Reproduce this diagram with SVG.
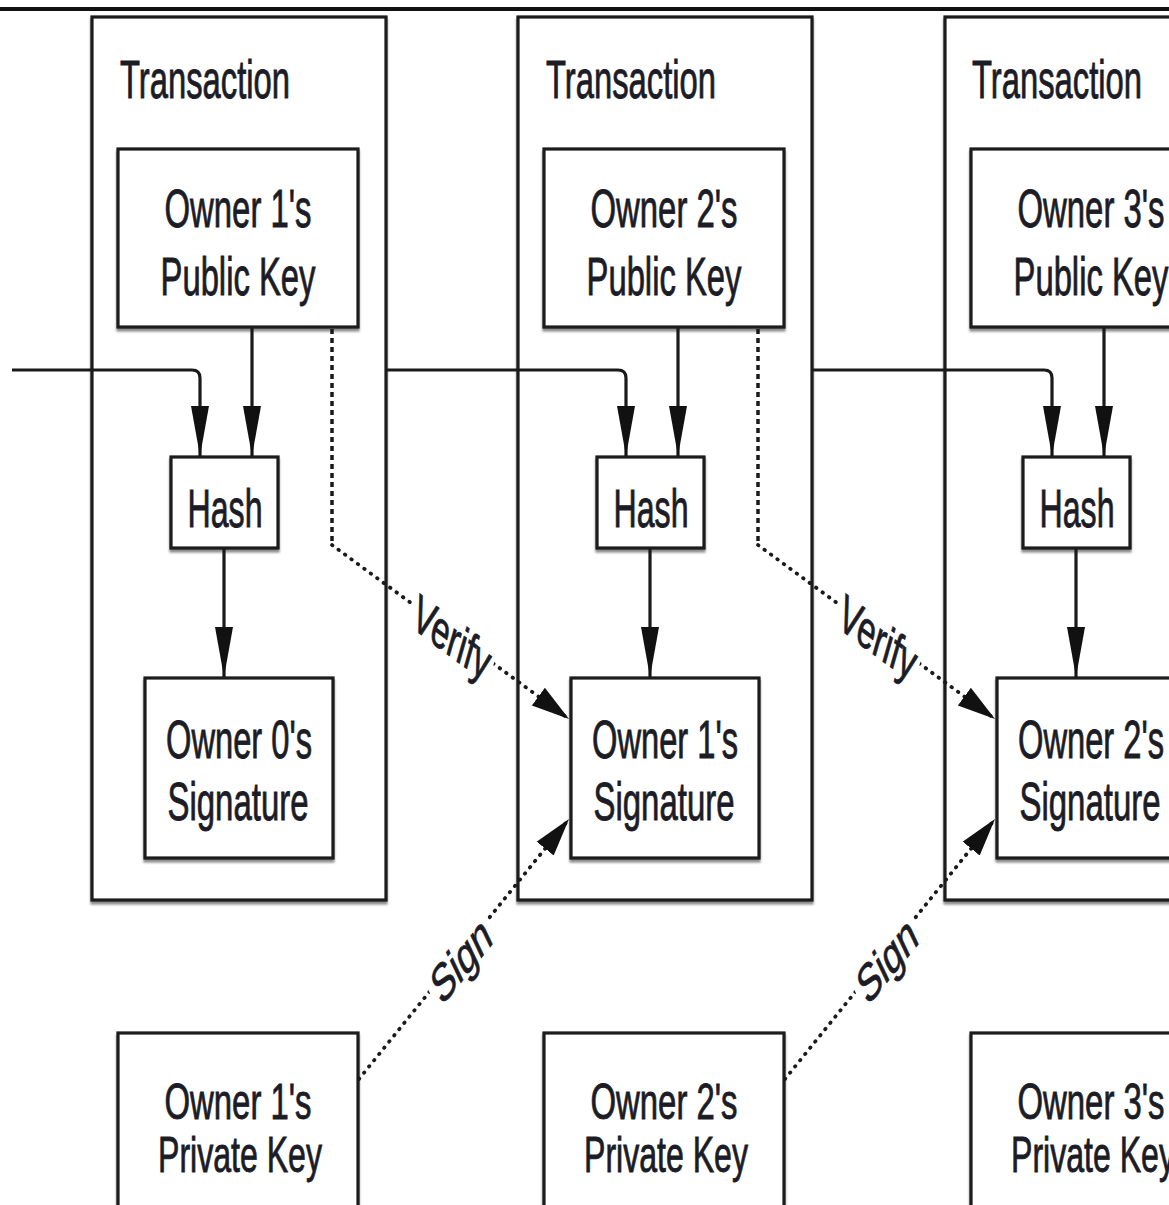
<svg xmlns="http://www.w3.org/2000/svg" width="1169" height="1205" viewBox="0 0 1169 1205">
<defs>
<style>
.box{fill:#fff;stroke:#1a1a1a;stroke-width:3.2;filter:url(#sh)}
.t{font-family:"Liberation Sans",Arial,Helvetica,sans-serif;font-size:53px;fill:#1c1c26;stroke:#1c1c26;stroke-width:0.9}
.s{font-size:50px}
.c{text-anchor:middle}
.ln{fill:none;stroke:#1a1a1a;stroke-width:3.2}
.dv{fill:none;stroke:#1a1a1a;stroke-width:3.5;stroke-dasharray:5 4}
.dd{fill:none;stroke:#1a1a1a;stroke-width:3.8;stroke-linecap:round;stroke-dasharray:0.5 7.5}
</style>
<filter id="sh" x="-5%" y="-5%" width="110%" height="115%">
<feDropShadow dx="0" dy="3" stdDeviation="1.2" flood-color="#000" flood-opacity="0.45"/>
</filter>
<marker id="av" markerUnits="userSpaceOnUse" markerWidth="50" markerHeight="20" refX="50" refY="10" orient="auto">
<path d="M0,1 L50,10 L0,19 Z" fill="#111"/>
</marker>
<marker id="ad" markerUnits="userSpaceOnUse" markerWidth="38" markerHeight="26" refX="38" refY="13" orient="auto">
<path d="M0,2 L38,13 L0,24 Z" fill="#111"/>
</marker>
</defs>
<rect x="0" y="0" width="1169" height="1205" fill="#fff"/>
<rect x="0" y="7" width="1169" height="4" fill="#111"/>

<g id="tx1">
<rect class="box" x="92" y="17" width="294" height="883"/>
<text class="t" x="120" y="98" textLength="170" lengthAdjust="spacingAndGlyphs">Transaction</text>
</g>
<g id="tx2">
<rect class="box" x="518" y="17" width="294" height="883"/>
<text class="t" x="546" y="98" textLength="170" lengthAdjust="spacingAndGlyphs">Transaction</text>
</g>
<g id="tx3">
<rect class="box" x="945" y="17" width="294" height="883"/>
<text class="t" x="972" y="98" textLength="170" lengthAdjust="spacingAndGlyphs">Transaction</text>
</g>

<g id="pub1">
<rect class="box" x="118" y="149" width="240" height="178"/>
<text class="t c" x="238" y="227" textLength="147" lengthAdjust="spacingAndGlyphs">Owner 1's</text>
<text class="t c" x="238" y="295" textLength="155" lengthAdjust="spacingAndGlyphs">Public Key</text>
</g>
<g id="pub2">
<rect class="box" x="544" y="149" width="240" height="178"/>
<text class="t c" x="664" y="227" textLength="147" lengthAdjust="spacingAndGlyphs">Owner 2's</text>
<text class="t c" x="664" y="295" textLength="155" lengthAdjust="spacingAndGlyphs">Public Key</text>
</g>
<g id="pub3">
<rect class="box" x="971" y="149" width="240" height="178"/>
<text class="t c" x="1091" y="227" textLength="147" lengthAdjust="spacingAndGlyphs">Owner 3's</text>
<text class="t c" x="1091" y="295" textLength="155" lengthAdjust="spacingAndGlyphs">Public Key</text>
</g>

<g id="hash1">
<rect class="box" x="171" y="457" width="107" height="91"/>
<text class="t c" x="225" y="527" textLength="75" lengthAdjust="spacingAndGlyphs">Hash</text>
</g>
<g id="hash2">
<rect class="box" x="597" y="457" width="107" height="91"/>
<text class="t c" x="651" y="527" textLength="75" lengthAdjust="spacingAndGlyphs">Hash</text>
</g>
<g id="hash3">
<rect class="box" x="1023" y="457" width="107" height="91"/>
<text class="t c" x="1077" y="527" textLength="75" lengthAdjust="spacingAndGlyphs">Hash</text>
</g>

<g id="sig0">
<rect class="box" x="145" y="678" width="188" height="180"/>
<text class="t c" x="239" y="758" textLength="146" lengthAdjust="spacingAndGlyphs">Owner 0's</text>
<text class="t c" x="238" y="820" textLength="141" lengthAdjust="spacingAndGlyphs">Signature</text>
</g>
<g id="sig1">
<rect class="box" x="571" y="678" width="188" height="180"/>
<text class="t c" x="665" y="758" textLength="146" lengthAdjust="spacingAndGlyphs">Owner 1's</text>
<text class="t c" x="664" y="820" textLength="141" lengthAdjust="spacingAndGlyphs">Signature</text>
</g>
<g id="sig2">
<rect class="box" x="997" y="678" width="188" height="180"/>
<text class="t c" x="1091" y="758" textLength="146" lengthAdjust="spacingAndGlyphs">Owner 2's</text>
<text class="t c" x="1090" y="820" textLength="141" lengthAdjust="spacingAndGlyphs">Signature</text>
</g>

<g id="priv1">
<rect class="box" x="118" y="1033" width="240" height="190"/>
<text class="t s c" x="238" y="1119" textLength="147" lengthAdjust="spacingAndGlyphs">Owner 1's</text>
<text class="t s c" x="240" y="1172" textLength="164" lengthAdjust="spacingAndGlyphs">Private Key</text>
</g>
<g id="priv2">
<rect class="box" x="544" y="1033" width="240" height="190"/>
<text class="t s c" x="664" y="1119" textLength="147" lengthAdjust="spacingAndGlyphs">Owner 2's</text>
<text class="t s c" x="666" y="1172" textLength="164" lengthAdjust="spacingAndGlyphs">Private Key</text>
</g>
<g id="priv3">
<rect class="box" x="971" y="1033" width="240" height="190"/>
<text class="t s c" x="1091" y="1119" textLength="147" lengthAdjust="spacingAndGlyphs">Owner 3's</text>
<text class="t s c" x="1093" y="1172" textLength="164" lengthAdjust="spacingAndGlyphs">Private Key</text>
</g>

<g id="connectors">
<path class="ln" d="M12,370 H192 Q200,370 200,378 V456" marker-end="url(#av)"/>
<path class="ln" d="M386,370 H618 Q626,370 626,378 V456" marker-end="url(#av)"/>
<path class="ln" d="M812,370 H1044 Q1052,370 1052,378 V456" marker-end="url(#av)"/>
<path class="ln" d="M252,327 V456" marker-end="url(#av)"/>
<path class="ln" d="M678,327 V456" marker-end="url(#av)"/>
<path class="ln" d="M1104,327 V456" marker-end="url(#av)"/>
<path class="ln" d="M224,548 V677" marker-end="url(#av)"/>
<path class="ln" d="M650,548 V677" marker-end="url(#av)"/>
<path class="ln" d="M1076,548 V677" marker-end="url(#av)"/>
<path class="dv" d="M332,329 V545"/>
<path class="dd" d="M332,545 L569,719" marker-end="url(#ad)"/>
<path class="dv" d="M758,329 V545"/>
<path class="dd" d="M758,545 L995,719" marker-end="url(#ad)"/>
<path class="dd" d="M359,1079 L569,819" marker-end="url(#ad)"/>
<path class="dd" d="M785,1079 L995,819" marker-end="url(#ad)"/>
<g transform="translate(452,638) scale(0.62,1) rotate(24.8)">
<rect x="-72" y="-22" width="144" height="44" fill="#fff"/>
<text class="t c" x="0" y="18">Verify</text>
</g>
<g transform="translate(878,638) scale(0.62,1) rotate(24.8)">
<rect x="-72" y="-22" width="144" height="44" fill="#fff"/>
<text class="t c" x="0" y="18">Verify</text>
</g>
<g transform="translate(461,960) scale(0.62,1) rotate(-37.5)">
<rect x="-60" y="-22" width="120" height="44" fill="#fff"/>
<text class="t c" x="0" y="18">Sign</text>
</g>
<g transform="translate(887,960) scale(0.62,1) rotate(-37.5)">
<rect x="-60" y="-22" width="120" height="44" fill="#fff"/>
<text class="t c" x="0" y="18">Sign</text>
</g>
</g>
</svg>
